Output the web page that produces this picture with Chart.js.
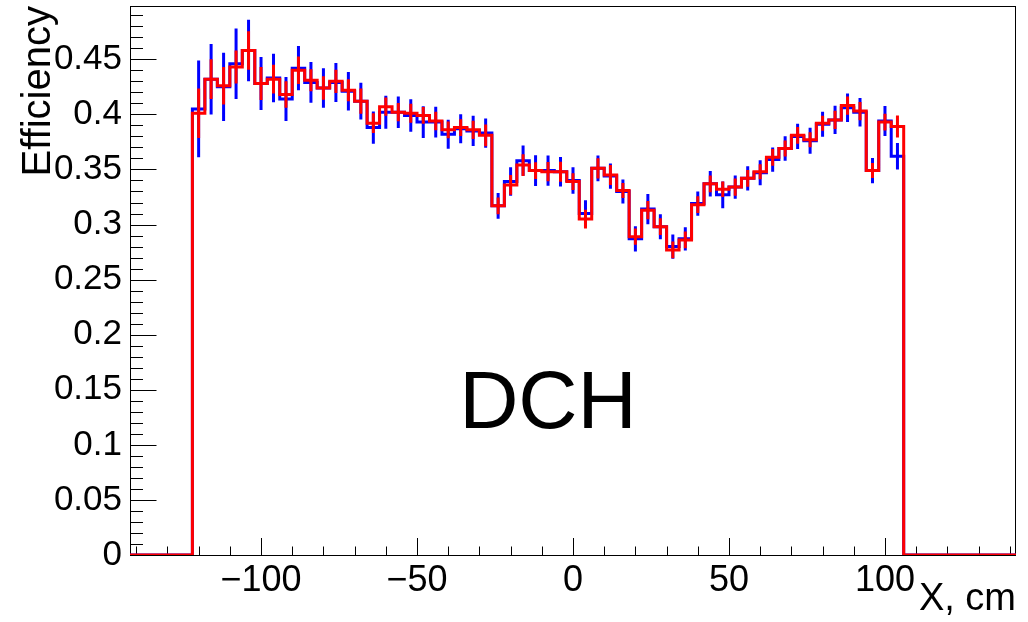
<!DOCTYPE html>
<html>
<head>
<meta charset="utf-8">
<script src="https://cdn.jsdelivr.net/npm/chart.js@4"></script>
<style>
  body { margin: 0; background: #fff; }
</style>
</head>
<body>
<canvas id="effChart" width="1028" height="622"></canvas>
<script>
// histogram binning: 71 bins of 4 cm from -142 to 142
const xMin = -142;
const binWidth = 4;

// efficiency per bin, blue histogram
const blueEff = [
  0, 0, 0, 0, 0,
  0.405, 0.432, 0.425, 0.446, 0.458, 0.428, 0.433, 0.414, 0.442, 0.429,
  0.424, 0.429, 0.421, 0.412, 0.388, 0.402, 0.402, 0.399, 0.393, 0.393,
  0.382, 0.387, 0.385, 0.383, 0.317, 0.339, 0.358, 0.349, 0.349, 0.348,
  0.340, 0.310, 0.351, 0.344, 0.330, 0.287, 0.314, 0.298, 0.280, 0.287,
  0.319, 0.337, 0.327, 0.334, 0.342, 0.347, 0.359, 0.369, 0.380, 0.376,
  0.391, 0.395, 0.406, 0.402, 0.349, 0.394, 0.362,
  0, 0, 0, 0, 0, 0, 0, 0, 0
];
const blueErr = [
  0, 0, 0, 0, 0,
  0.044, 0.032, 0.031, 0.032, 0.028, 0.024, 0.022, 0.020, 0.020, 0.0185,
  0.018, 0.0177, 0.0175, 0.0167, 0.0147, 0.015, 0.0143, 0.0147, 0.0144, 0.014,
  0.0132, 0.0132, 0.0137, 0.0132, 0.0117, 0.0129, 0.0137, 0.014, 0.0137, 0.0134,
  0.0121, 0.0121, 0.0117, 0.0114, 0.011, 0.0114, 0.0137, 0.0114, 0.011, 0.0106,
  0.011, 0.0115, 0.0121, 0.0106, 0.011, 0.0114, 0.011, 0.0112, 0.0114, 0.0118,
  0.0114, 0.0129, 0.0129, 0.0129, 0.0114, 0.0137, 0.0121,
  0, 0, 0, 0, 0, 0, 0, 0, 0
];

// efficiency per bin, red histogram
const redEff = [
  0, 0, 0, 0, 0,
  0.401, 0.432, 0.426, 0.443, 0.458, 0.428, 0.432, 0.418, 0.440, 0.431,
  0.424, 0.430, 0.422, 0.412, 0.392, 0.407, 0.402, 0.401, 0.399, 0.394,
  0.386, 0.388, 0.386, 0.381, 0.317, 0.336, 0.354, 0.349, 0.348, 0.348,
  0.339, 0.305, 0.351, 0.345, 0.331, 0.289, 0.313, 0.298, 0.277, 0.286,
  0.318, 0.337, 0.332, 0.334, 0.342, 0.348, 0.361, 0.369, 0.381, 0.377,
  0.392, 0.395, 0.408, 0.403, 0.349, 0.393, 0.389,
  0, 0, 0, 0, 0, 0, 0, 0, 0
];
const redErr = [
  0, 0, 0, 0, 0,
  0.0225, 0.018, 0.017, 0.015, 0.0175, 0.015, 0.013, 0.012, 0.0125, 0.010,
  0.0106, 0.0106, 0.010, 0.0114, 0.009, 0.0083, 0.0083, 0.0087, 0.0076, 0.0083,
  0.0076, 0.0076, 0.0083, 0.0099, 0.0076, 0.009, 0.0099, 0.0076, 0.0087, 0.0091,
  0.0076, 0.0085, 0.0091, 0.0091, 0.0068, 0.0073, 0.0083, 0.0076, 0.0076, 0.0076,
  0.0076, 0.0076, 0.0071, 0.0079, 0.0076, 0.0068, 0.0076, 0.0073, 0.0076, 0.0068,
  0.0068, 0.0083, 0.0083, 0.0083, 0.0068, 0.0076, 0.0099,
  0, 0, 0, 0, 0, 0, 0, 0, 0
];

const xTitle = 'X, cm';
const yTitle = 'Efficiency';
const detectorLabel = 'DCH';

const labelFont = "'Liberation Sans', Arial, sans-serif";

// bin outline: one point per left edge, plus the last right edge
function stepPoints(vals) {
  const pts = vals.map((v, i) => ({ x: xMin + i * binWidth, y: v }));
  pts.push({ x: xMin + vals.length * binWidth, y: vals[vals.length - 1] });
  return pts;
}

// vertical error bars at bin centres, broken up with nulls
function errorPoints(vals, errs) {
  const pts = [];
  for (let i = 0; i < vals.length; i++) {
    if (!errs[i]) continue;
    const c = xMin + (i + 0.5) * binWidth;
    pts.push({ x: c, y: vals[i] - errs[i] });
    pts.push({ x: c, y: vals[i] + errs[i] });
    pts.push({ x: c, y: null });
  }
  return pts;
}

// ROOT-like frame with ticks pointing inwards
const frameTicks = {
  id: 'frameTicks',
  beforeDatasetsDraw(chart) {
    const ctx = chart.ctx;
    const a = chart.chartArea;
    const xs = chart.scales.x;
    const ys = chart.scales.y;
    ctx.save();
    ctx.strokeStyle = '#000';
    ctx.lineWidth = 1;
    ctx.strokeRect(a.left + 0.5, a.top + 0.5, a.right - a.left - 1, a.bottom - a.top);
    ctx.beginPath();
    for (let v = -140; v <= 140; v += 10) {
      const px = Math.round(xs.getPixelForValue(v)) + 0.5;
      const len = v % 50 === 0 ? 17 : 8.5;
      ctx.moveTo(px, a.bottom);
      ctx.lineTo(px, a.bottom - len);
    }
    for (let k = 0; k <= 49; k++) {
      const py = Math.round(ys.getPixelForValue(k / 100)) + 0.5;
      const len = k % 5 === 0 ? 26.5 : 13;
      ctx.moveTo(a.left, py);
      ctx.lineTo(a.left + len, py);
    }
    ctx.stroke();
    ctx.restore();
  },
  afterDatasetsDraw(chart) {
    const ctx = chart.ctx;
    ctx.save();
    ctx.fillStyle = '#000';
    ctx.font = '82px ' + labelFont;
    ctx.textAlign = 'left';
    ctx.textBaseline = 'alphabetic';
    ctx.fillText(detectorLabel, chart.scales.x.getPixelForValue(-36.5), chart.scales.y.getPixelForValue(0.115));
    ctx.restore();
  }
};

function chart() {
  const ctx = document.getElementById('effChart').getContext('2d');
  const common = { pointRadius: 0, borderWidth: 3, fill: false, tension: 0 };

  new Chart(ctx, {
    type: 'line',
    data: {
      datasets: [
        { ...common, data: errorPoints(blueEff, blueErr), borderColor: '#0000ff', spanGaps: false, borderCapStyle: 'butt', order: 4 },
        { ...common, data: stepPoints(blueEff), borderColor: '#0000ff', stepped: 'before', order: 3 },
        { ...common, data: stepPoints(redEff), borderColor: '#ff0000', stepped: 'before', order: 2 },
        { ...common, data: errorPoints(redEff, redErr), borderColor: '#ff0000', spanGaps: false, borderCapStyle: 'butt', order: 1 }
      ]
    },
    options: {
      responsive: false,
      animation: false,
      layout: { autoPadding: false, padding: { left: 0, right: 12, top: 6, bottom: 0 } },
      plugins: { legend: { display: false }, tooltip: { enabled: false } },
      scales: {
        x: {
          type: 'linear',
          min: xMin,
          max: -xMin,
          afterFit: function(s) {
            s.height = 67;
            s.paddingLeft = 0;
            s.paddingRight = 0;
          },
          afterBuildTicks: function(s) {
            s.ticks = [-100, -50, 0, 50, 100].map(v => ({ value: v }));
          },
          grid: { display: false, drawTicks: false },
          border: { display: false },
          ticks: {
            padding: 4,
            color: '#000',
            font: { family: labelFont, size: 36 },
            maxRotation: 0,
            callback: function(value) {
              return value < 0 ? '\u2212' + Math.abs(value) : String(value);
            }
          },
          title: {
            display: true,
            text: xTitle,
            align: 'end',
            color: '#000',
            padding: 0,
            font: { family: labelFont, size: 38, lineHeight: 1.2 }
          }
        },
        y: {
          type: 'linear',
          min: 0,
          max: 0.4984,
          afterFit: function(s) {
            s.width = 130;
            s.paddingTop = 0;
            s.paddingBottom = 0;
          },
          afterBuildTicks: function(s) {
            const t = [];
            for (let k = 0; k <= 9; k++) t.push({ value: k * 0.05 });
            s.ticks = t;
          },
          grid: { display: false, drawTicks: false },
          border: { display: false },
          ticks: {
            padding: 8,
            color: '#000',
            font: { family: labelFont, size: 35 },
            callback: function(value) {
              return String(Math.round(value * 100) / 100);
            }
          },
          title: {
            display: true,
            text: yTitle,
            align: 'end',
            color: '#000',
            padding: 15,
            font: { family: labelFont, size: 40, lineHeight: 1.2 }
          }
        }
      }
    },
    plugins: [frameTicks]
  });
}

chart();
</script>
</body>
</html>
